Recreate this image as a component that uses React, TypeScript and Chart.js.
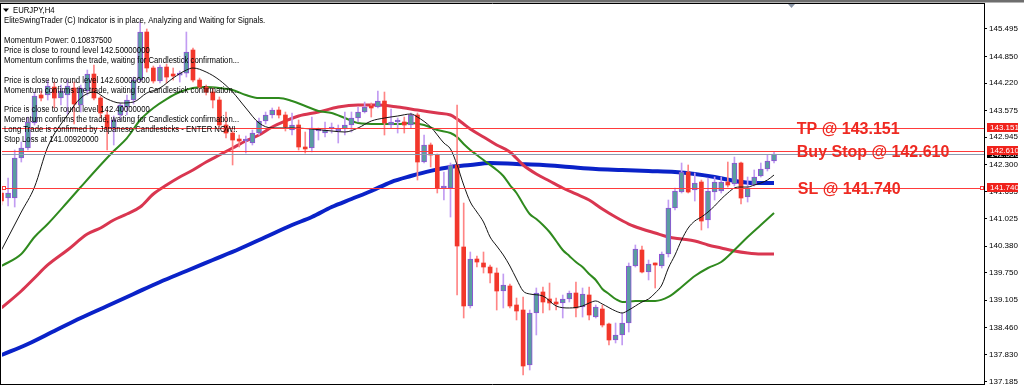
import React, { useEffect, useRef } from 'react';
import { Chart, registerables } from 'chart.js';

Chart.register(...registerables);

// ---------- text ----------
const SYMBOL_TITLE = 'EURJPY,H4';
const COMMENT_LINES = [
  'EliteSwingTrader (C) Indicator is in place, Analyzing and Waiting for Signals.',
  '',
  'Momentum Power: 0.10837500',
  'Price is close to round level 142.50000000',
  'Momentum confirms the trade, waiting for Candlestick confirmation...',
  '',
  'Price is close to round level 142.60000000',
  'Momentum confirms the trade, waiting for Candlestick confirmation...',
  '',
  'Price is close to round level 142.40000000',
  'Momentum confirms the trade, waiting for Candlestick confirmation...',
  'Long Trade is confirmed by Japanese Candlesticks - ENTER NOW!.',
  'Stop Loss at 141.00920000',
];

// ---------- price axis ----------
const PRICE_TICKS = [145.495, 144.85, 144.22, 143.575, 142.945, 142.3, 141.655, 141.025, 140.38, 139.75, 139.105, 138.46, 137.83, 137.185];
const Y_MIN = 137.131;
const Y_MAX = 146.084;
const X_MIN = 0.076;
const X_MAX = 148.8;

// ---------- trade levels ----------
const LEVEL_PRICES = [143.151, 142.61, 141.74];
const LEVEL_TEXTS = ['TP @ 143.151', 'Buy Stop @ 142.610', 'SL @ 141.740'];
const LEVEL_TAGS = ['143.151', '142.610', '141.740'];
const BID_PRICE = 142.55;
const BID_TAG = '142.550';
const SL_PRICE = 141.74;
const LABEL_ANCHOR_INDEX = 120.45;

// ---------- candles (EURJPY H4) ----------
const opens = [
  141.631, 141.513, 141.513, 142.456, 142.691, 143.280, 143.940, 143.940, 144.128, 143.869,
  143.940, 144.105, 143.704, 144.034, 144.434, 143.869, 143.469, 143.163, 143.469, 143.657,
  143.822, 144.293, 145.424, 144.576, 144.270, 144.599, 144.434, 144.410, 144.457, 145.000,
  144.293, 144.128, 144.010, 143.822, 143.233, 143.044, 142.903, 142.856, 142.809, 143.044,
  143.327, 143.469, 143.586, 143.469, 143.115, 143.233, 142.715, 142.691, 143.092, 143.044,
  143.139, 143.092, 143.139, 143.233, 143.398, 143.539, 143.657, 143.657, 143.798, 143.233,
  143.304, 143.304, 143.233, 143.469, 142.361, 142.762, 142.526, 141.749, 141.749, 142.291,
  140.359, 138.969, 140.076, 139.982, 139.887, 139.746, 139.322, 139.440, 138.992, 138.874,
  137.578, 138.804, 139.299, 139.134, 139.063, 139.039, 139.134, 139.275, 138.945, 139.228,
  138.709, 138.898, 138.544, 138.168, 138.286, 138.568, 139.911, 140.288, 139.770, 139.958,
  139.911, 140.194, 141.278, 141.654, 142.126, 141.702, 141.890, 140.995, 141.654, 141.678,
  141.890, 141.843, 142.338, 141.537, 141.819, 142.031, 142.196, 142.385,
];
const highs = [
  141.702, 141.984, 142.644, 142.832, 143.421, 144.010, 144.034, 144.293, 144.246, 144.175,
  144.293, 144.246, 144.175, 144.528, 144.646, 143.916, 143.586, 143.445, 143.751, 143.940,
  144.363, 145.660, 145.495, 144.623, 144.646, 144.670, 144.576, 144.505, 145.424, 145.047,
  144.340, 144.175, 144.105, 143.893, 143.539, 143.092, 142.997, 142.973, 143.115, 143.398,
  143.539, 143.634, 143.657, 143.539, 143.516, 143.351, 143.068, 143.421, 143.163, 143.304,
  143.280, 143.233, 143.539, 143.539, 143.657, 143.775, 143.751, 144.034, 144.010, 143.610,
  143.398, 143.421, 143.516, 143.516, 142.997, 142.809, 142.550, 142.126, 142.338, 143.704,
  141.395, 140.241, 140.147, 140.241, 139.935, 139.864, 139.723, 139.487, 139.157, 139.181,
  138.874, 139.393, 139.416, 139.510, 139.157, 139.228, 139.322, 139.534, 139.393, 139.416,
  138.992, 138.992, 138.568, 138.568, 138.804, 139.982, 140.406, 140.382, 140.052, 139.982,
  140.241, 141.466, 141.749, 142.338, 142.291, 142.102, 141.937, 141.984, 142.008, 142.008,
  142.361, 142.479, 142.361, 142.008, 142.173, 142.338, 142.526, 142.597,
];
const lows = [
  141.348, 141.325, 141.301, 142.361, 142.644, 143.233, 143.798, 143.822, 143.634, 143.704,
  143.492, 143.256, 143.539, 143.940, 143.822, 143.398, 142.644, 142.762, 143.351, 143.469,
  143.728, 144.246, 144.481, 144.222, 144.222, 144.222, 144.293, 144.246, 144.363, 144.246,
  144.081, 143.940, 143.634, 143.186, 142.926, 142.291, 142.715, 142.573, 142.762, 142.997,
  143.256, 143.398, 143.398, 143.092, 142.997, 142.644, 142.573, 142.597, 142.879, 142.950,
  143.044, 142.809, 142.997, 143.068, 143.304, 143.516, 143.421, 143.634, 142.997, 143.163,
  143.044, 143.044, 143.163, 141.937, 142.338, 142.243, 141.631, 141.466, 141.065, 139.228,
  138.686, 138.922, 139.887, 139.746, 139.510, 138.874, 138.922, 138.922, 138.639, 137.343,
  137.461, 138.286, 138.804, 138.874, 138.874, 138.686, 139.063, 138.709, 138.709, 138.639,
  138.686, 138.474, 138.050, 138.097, 138.050, 138.356, 139.887, 139.746, 139.582, 139.393,
  139.864, 140.123, 141.231, 141.631, 141.631, 141.442, 140.759, 140.806, 141.466, 141.631,
  141.772, 141.796, 141.372, 141.419, 141.796, 142.008, 142.149, 142.338,
];
const closes = [
  141.442, 141.631, 142.456, 142.691, 143.304, 143.916, 143.869, 144.152, 143.869, 144.034,
  144.152, 143.728, 144.105, 144.434, 143.869, 143.516, 143.163, 143.351, 143.704, 143.822,
  144.293, 145.424, 144.576, 144.270, 144.599, 144.363, 144.387, 144.457, 144.953, 144.293,
  144.128, 144.010, 143.822, 143.233, 143.044, 142.879, 142.856, 142.903, 143.044, 143.327,
  143.469, 143.586, 143.469, 143.186, 143.233, 142.715, 142.668, 143.163, 143.115, 143.115,
  143.163, 143.139, 143.233, 143.398, 143.539, 143.657, 143.634, 143.798, 143.280, 143.304,
  143.327, 143.233, 143.469, 142.361, 142.762, 142.526, 141.749, 141.772, 142.291, 140.382,
  138.969, 140.076, 140.005, 139.887, 139.746, 139.322, 139.463, 138.969, 138.851, 137.555,
  138.804, 139.275, 139.063, 139.039, 139.016, 139.134, 139.275, 138.922, 139.252, 138.757,
  138.945, 138.521, 138.168, 138.286, 138.568, 139.911, 140.312, 139.770, 139.958, 139.935,
  140.194, 141.278, 141.678, 142.126, 141.654, 141.867, 140.971, 141.678, 141.890, 141.890,
  141.819, 142.338, 141.513, 141.749, 142.008, 142.196, 142.385, 142.550,
];

// ---------- moving averages: [bar index, price] ----------
const fastMA = [
  [0, 140.288], [3, 141.183], [5, 141.772], [7, 142.715], [10, 143.469], [12, 143.869], [14, 144.010],
  [16, 143.845], [18, 143.751], [20, 143.775], [22, 143.987], [24, 144.105], [26, 144.340], [28, 144.528],
  [29, 144.576], [31, 144.481], [33, 144.293], [35, 144.010], [37, 143.634], [39, 143.280], [41, 143.163],
  [44, 143.163], [47, 143.139], [50, 143.092], [52, 143.068], [54, 143.163], [56, 143.327], [58, 143.398],
  [60, 143.445], [62, 143.492], [63, 143.421], [65, 143.186], [67, 142.809], [68, 142.668], [69, 142.291],
  [70, 141.819], [71, 141.419], [72, 141.183], [73, 140.948], [74, 140.594], [75, 140.382], [76, 140.170],
  [77, 139.911], [78, 139.605], [79, 139.322], [80, 139.252], [82, 139.204], [84, 138.969], [86, 138.922],
  [88, 138.969], [89, 139.039], [90, 139.087], [91, 139.016], [93, 138.851], [94, 138.804], [95, 138.874],
  [96, 138.969], [97, 139.063], [98, 139.134], [99, 139.275], [100, 139.463], [101, 139.864], [102, 140.170],
  [103, 140.524], [104, 140.806], [105, 140.971], [106, 141.065], [107, 141.183], [108, 141.325], [109, 141.490],
  [110, 141.631], [111, 141.749], [112, 141.772], [113, 141.772], [114, 141.819], [115, 141.867], [116, 141.937],
  [117, 142.055],
];
const midMA = [
  [0, 139.911], [3, 140.194], [5, 140.594], [7, 140.900], [10, 141.419], [12, 141.772], [15, 142.291],
  [17, 142.620], [19, 142.926], [21, 143.351], [23, 143.634], [25, 143.845], [27, 144.010], [29, 144.105],
  [31, 144.128], [33, 144.105], [35, 144.058], [37, 143.940], [39, 143.869], [42, 143.869], [44, 143.798],
  [46, 143.681], [48, 143.563], [50, 143.516], [52, 143.398], [54, 143.280], [57, 143.256], [60, 143.256],
  [62, 143.280], [64, 143.233], [66, 143.115], [68, 143.044], [69, 142.950], [70, 142.785], [71, 142.644],
  [72, 142.526], [73, 142.408], [75, 142.173], [76, 142.031], [77, 141.819], [78, 141.631], [79, 141.372],
  [80, 141.136], [81, 141.018], [82, 140.877], [83, 140.712], [84, 140.500], [85, 140.288], [86, 140.147],
  [87, 140.005], [88, 139.887], [89, 139.723], [90, 139.582], [91, 139.370], [92, 139.252], [93, 139.134],
  [94, 139.063], [96, 139.087], [99, 139.087], [101, 139.181], [103, 139.416], [105, 139.675], [107, 139.864],
  [109, 140.005], [111, 140.288], [113, 140.594], [115, 140.877], [117, 141.160],
];
const slowMA = [
  [0, 138.922], [3, 139.322], [5, 139.628], [7, 139.935], [10, 140.288], [13, 140.665], [15, 140.806],
  [17, 140.995], [19, 141.136], [21, 141.301], [23, 141.608], [25, 141.819], [27, 142.008], [29, 142.173],
  [31, 142.361], [33, 142.526], [35, 142.691], [37, 142.856], [39, 142.997], [41, 143.186], [43, 143.327],
  [45, 143.445], [48, 143.539], [51, 143.657], [54, 143.704], [57, 143.704], [60, 143.657], [63, 143.586],
  [66, 143.516], [68, 143.469], [69, 143.374], [70, 143.256], [71, 143.139], [73, 142.950], [75, 142.762],
  [77, 142.597], [79, 142.291], [81, 142.079], [83, 141.914], [85, 141.749], [87, 141.608], [89, 141.466],
  [91, 141.254], [93, 141.065], [95, 140.900], [97, 140.783], [99, 140.688], [101, 140.594], [103, 140.547],
  [105, 140.500], [107, 140.406], [109, 140.335], [111, 140.264], [113, 140.217], [115, 140.194], [117, 140.194],
];
const longMA = [
  [0, 137.814], [4, 138.073], [8, 138.380], [12, 138.686], [16, 138.969], [20, 139.252], [24, 139.535],
  [28, 139.793], [32, 140.052], [36, 140.311], [40, 140.594], [44, 140.877], [47, 141.065], [50, 141.301],
  [53, 141.490], [56, 141.678], [59, 141.890], [62, 142.031], [65, 142.152], [68, 142.243], [71, 142.291],
  [74, 142.338], [78, 142.314], [82, 142.291], [86, 142.243], [90, 142.196], [94, 142.173], [98, 142.149],
  [102, 142.126], [105, 142.079], [108, 142.008], [111, 141.914], [114, 141.867], [117, 141.867],
];

const BULL_FILL = '#5a9ea0';
const BULL_BORDER = '#9150d8';
const BULL_WICK = '#c29cf2';
const BEAR_FILL = '#f2372b';
const BEAR_WICK = '#ff8585';
const LEVEL_RED = '#ff3b3b';
const LABEL_RED = '#ee2a22';

const isBull = (i: number) => closes[i] >= opens[i];

const mtPlugin = {
  id: 'mtDecor',
  beforeDraw(chart: any) {
    const { ctx, width, height } = chart;
    ctx.save();
    ctx.fillStyle = '#ffffff';
    ctx.fillRect(0, 0, width, height);
    ctx.fillStyle = '#6e6e6e';
    ctx.fillRect(0, 0, width, 2);
    ctx.fillStyle = '#b4b4b4';
    ctx.fillRect(0, 2, width, 1);
    ctx.restore();
  },
  afterDatasetsDraw(chart: any) {
    const { ctx, chartArea: a, scales } = chart;
    const ys = scales.y;
    const xs = scales.x;
    ctx.save();
    ctx.beginPath();
    ctx.rect(a.left, a.top, a.right - a.left, a.bottom - a.top);
    ctx.clip();
    ctx.lineWidth = 1;
    const by = Math.round(ys.getPixelForValue(BID_PRICE)) + 0.5;
    ctx.strokeStyle = '#8c9ab0';
    ctx.beginPath();
    ctx.moveTo(a.left, by);
    ctx.lineTo(a.right, by);
    ctx.stroke();
    ctx.strokeStyle = LEVEL_RED;
    LEVEL_PRICES.forEach((p) => {
      const py = Math.round(ys.getPixelForValue(p)) + 0.5;
      ctx.beginPath();
      ctx.moveTo(a.left, py);
      ctx.lineTo(a.right, py);
      ctx.stroke();
    });
    const sy = Math.round(ys.getPixelForValue(SL_PRICE));
    ctx.fillStyle = '#ffffff';
    [a.left + 0.5, a.right - 3.5].forEach((sx) => {
      ctx.fillRect(sx, sy - 1.5, 3, 3);
      ctx.strokeRect(sx, sy - 1.5, 3, 3);
    });
    ctx.restore();

    ctx.save();
    ctx.font = 'bold 16px "Liberation Sans", Arial, sans-serif';
    ctx.fillStyle = LABEL_RED;
    ctx.textBaseline = 'alphabetic';
    ctx.textAlign = 'left';
    const lx = xs.getPixelForValue(LABEL_ANCHOR_INDEX);
    LEVEL_PRICES.forEach((p, k) => {
      const py = ys.getPixelForValue(p);
      ctx.fillText(LEVEL_TEXTS[k], lx + (k === 2 ? 1 : 0), py + 6);
    });
    ctx.restore();
  },
  afterDraw(chart: any) {
    const { ctx, chartArea: a, scales } = chart;
    const ys = scales.y;
    ctx.save();
    ctx.font = '8px "Liberation Sans", Arial, sans-serif';
    ctx.textBaseline = 'middle';
    ctx.textAlign = 'left';
    const tagX = a.right + 3;
    const tagW = 31;
    const bY = ys.getPixelForValue(BID_PRICE);
    ctx.fillStyle = '#000000';
    ctx.fillRect(tagX, Math.round(bY - 4.5), tagW, 9);
    ctx.fillStyle = '#ffffff';
    ctx.fillText(BID_TAG, tagX + 3, bY + 0.5);
    LEVEL_PRICES.forEach((p, k) => {
      const py = ys.getPixelForValue(p);
      ctx.fillStyle = '#f0221c';
      ctx.fillRect(tagX, Math.round(py - 5), tagW, 9);
      ctx.fillStyle = '#ffffff';
      ctx.fillText(LEVEL_TAGS[k], tagX + 3, py - 0.5);
    });

    ctx.strokeStyle = '#000000';
    ctx.lineWidth = 1;
    ctx.beginPath();
    ctx.moveTo(0, 3.5);
    ctx.lineTo(a.right + 1, 3.5);
    ctx.moveTo(0.5, 3);
    ctx.lineTo(0.5, a.bottom + 1);
    ctx.moveTo(0, a.bottom + 0.5);
    ctx.lineTo(a.right + 1, a.bottom + 0.5);
    ctx.stroke();

    ctx.fillStyle = '#8a96a8';
    ctx.beginPath();
    ctx.moveTo(788, 4);
    ctx.lineTo(795, 4);
    ctx.lineTo(791.5, 8);
    ctx.closePath();
    ctx.fill();

    ctx.fillStyle = '#000000';
    ctx.beginPath();
    ctx.moveTo(3, 8.5);
    ctx.lineTo(9, 8.5);
    ctx.lineTo(6, 12);
    ctx.closePath();
    ctx.fill();
    ctx.font = '8.5px "Liberation Sans", Arial, sans-serif';
    ctx.textBaseline = 'middle';
    const drawText = (t: string, x: number, y: number) => {
      ctx.save();
      ctx.translate(x, y);
      ctx.scale(0.91, 1);
      ctx.fillText(t, 0, 0);
      ctx.restore();
    };
    drawText(SYMBOL_TITLE, 13, 10.5);
    COMMENT_LINES.forEach((t, k) => {
      if (t) drawText(t, 4, 21 + k * 9.9);
    });
    ctx.restore();
  },
};

export default function App() {
  const ref = useRef<HTMLCanvasElement>(null);
  useEffect(() => {
    document.body.style.margin = '0';
    const canvas = ref.current;
    if (!canvas) return;
    const idx = opens.map((_, i) => i);
    const bullIdx = idx.filter((i) => isBull(i));
    const bearIdx = idx.filter((i) => !isBull(i));
    const toPts = (arr: number[][]) => arr.map(([x, y]) => ({ x, y }));
    const chart = new Chart(canvas, {
      type: 'bar',
      data: {
        datasets: [
          {
            type: 'line',
            label: 'MA fast',
            data: toPts(fastMA),
            borderColor: '#151515',
            borderWidth: 1,
            pointRadius: 0,
            cubicInterpolationMode: 'monotone',
            order: 0,
          },
          {
            type: 'bar',
            label: 'bull bodies',
            data: bullIdx.map((i) => ({ x: i, y: [opens[i], closes[i]] })),
            backgroundColor: BULL_FILL,
            borderColor: BULL_BORDER,
            borderWidth: 1,
            borderSkipped: false,
            barThickness: 5,
            minBarLength: 2,
            grouped: false,
            order: 1,
          },
          {
            type: 'bar',
            label: 'bear bodies',
            data: bearIdx.map((i) => ({ x: i, y: [opens[i], closes[i]] })),
            backgroundColor: BEAR_FILL,
            borderWidth: 0,
            barThickness: 4,
            minBarLength: 2,
            grouped: false,
            order: 1,
          },
          {
            type: 'bar',
            label: 'wicks',
            data: idx.map((i) => ({ x: i, y: [lows[i], highs[i]] })),
            backgroundColor: (c: any) => (isBull(c.dataIndex) ? BULL_WICK : BEAR_WICK),
            barThickness: 1,
            grouped: false,
            order: 2,
          },
          {
            type: 'line',
            label: 'MA mid',
            data: toPts(midMA),
            borderColor: '#2f8a1e',
            borderWidth: 2,
            pointRadius: 0,
            cubicInterpolationMode: 'monotone',
            order: 3,
          },
          {
            type: 'line',
            label: 'MA slow',
            data: toPts(slowMA),
            borderColor: '#d93650',
            borderWidth: 3,
            pointRadius: 0,
            cubicInterpolationMode: 'monotone',
            order: 4,
          },
          {
            type: 'line',
            label: 'MA long',
            data: toPts(longMA),
            borderColor: '#0a22c8',
            borderWidth: 4,
            pointRadius: 0,
            cubicInterpolationMode: 'monotone',
            order: 5,
          },
        ] as any,
      },
      options: {
        responsive: false,
        animation: false,
        devicePixelRatio: 1,
        events: [],
        layout: { padding: { left: 2, top: 4, bottom: 2, right: 0 } },
        plugins: { legend: { display: false }, tooltip: { enabled: false } },
        scales: {
          x: { type: 'linear', min: X_MIN, max: X_MAX, display: false, offset: false },
          y: {
            type: 'linear',
            position: 'right',
            min: Y_MIN,
            max: Y_MAX,
            afterBuildTicks: (s: any) => {
              s.ticks = PRICE_TICKS.map((v) => ({ value: v }));
            },
            afterFit: (s: any) => {
              s.width = 40;
              s.paddingTop = 0;
              s.paddingBottom = 0;
            },
            ticks: {
              autoSkip: false,
              padding: 2,
              color: '#000000',
              crossAlign: 'near',
              font: { family: '"Liberation Sans", Arial, sans-serif', size: 8 },
              callback: (v: any) => Number(v).toFixed(3),
            },
            grid: { drawOnChartArea: false, drawTicks: true, tickLength: 3, color: '#000000' },
            border: { display: true, color: '#000000', width: 1 },
          },
        } as any,
      },
      plugins: [mtPlugin],
    });
    return () => chart.destroy();
  }, []);
  return (
    <div style={{ position: 'absolute', left: 0, top: 0, width: 1024, height: 386 }}>
      <canvas ref={ref} width={1024} height={386} style={{ display: 'block', width: 1024, height: 386 }} />
    </div>
  );
}
